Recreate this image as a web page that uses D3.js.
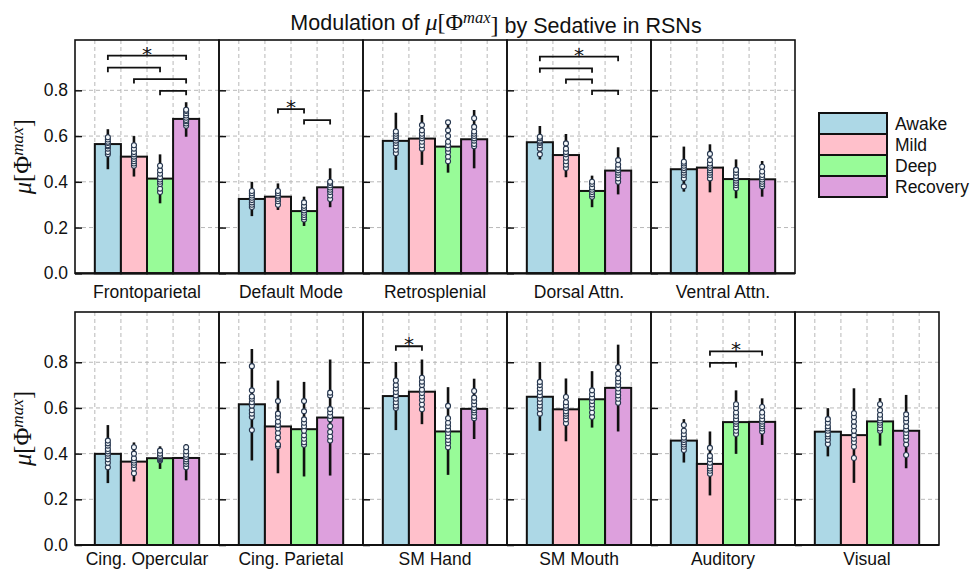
<!DOCTYPE html>
<html>
<head>
<meta charset="utf-8">
<script src="https://cdn.jsdelivr.net/npm/d3@7"></script>
<style>
  body { margin: 0; background: #fff; }
  svg { display: block; }
  text { font-family: "Liberation Sans", Arial, sans-serif; fill: #111; }
</style>
</head>
<body>
<div id="chart"></div>
<script>
var width = 972, height = 569;

var networks = ['Frontoparietal', 'Default Mode', 'Retrosplenial', 'Dorsal Attn.', 'Ventral Attn.',
    'Cing. Opercular', 'Cing. Parietal', 'SM Hand', 'SM Mouth', 'Auditory', 'Visual'];
var conditions = ['Awake', 'Mild', 'Deep', 'Recovery'];
var colors = ['#add8e6', '#ffc0cb', '#98fb98', '#dda0dd'];
var yTicks = [0, 0.2, 0.4, 0.6, 0.8];

// bar heights, one row per network (Awake, Mild, Deep, Recovery)
var means = [
    [0.565, 0.51, 0.414, 0.675],
    [0.325, 0.335, 0.272, 0.376],
    [0.579, 0.589, 0.554, 0.586],
    [0.573, 0.517, 0.36, 0.449],
    [0.455, 0.462, 0.412, 0.411],
    [0.399, 0.365, 0.38, 0.381],
    [0.616, 0.519, 0.507, 0.558],
    [0.652, 0.671, 0.497, 0.596],
    [0.649, 0.594, 0.638, 0.688],
    [0.457, 0.355, 0.538, 0.539],
    [0.496, 0.481, 0.541, 0.50]
];
var errLow = [
    [0.455, 0.423, 0.306, 0.597],
    [0.25, 0.277, 0.207, 0.289],
    [0.452, 0.474, 0.44, 0.459],
    [0.498, 0.42, 0.289, 0.345],
    [0.357, 0.354, 0.328, 0.335],
    [0.271, 0.278, 0.333, 0.283],
    [0.37, 0.314, 0.30, 0.304],
    [0.503, 0.529, 0.307, 0.464],
    [0.50, 0.454, 0.514, 0.497],
    [0.361, 0.217, 0.399, 0.438],
    [0.388, 0.272, 0.435, 0.336]
];
var errHigh = [
    [0.63, 0.60, 0.52, 0.748],
    [0.40, 0.393, 0.335, 0.459],
    [0.702, 0.692, 0.663, 0.714],
    [0.644, 0.609, 0.427, 0.551],
    [0.554, 0.564, 0.498, 0.491],
    [0.525, 0.449, 0.432, 0.442],
    [0.858, 0.72, 0.714, 0.812],
    [0.801, 0.812, 0.691, 0.728],
    [0.801, 0.729, 0.761, 0.877],
    [0.551, 0.497, 0.677, 0.642],
    [0.599, 0.686, 0.643, 0.657]
];

// individual subject values
var points = [
    [[0.52, 0.53, 0.545, 0.555, 0.56, 0.57, 0.575, 0.585, 0.595],
     [0.47, 0.48, 0.49, 0.50, 0.51, 0.52, 0.53, 0.545, 0.56],
     [0.355, 0.37, 0.39, 0.40, 0.41, 0.42, 0.435, 0.45, 0.47],
     [0.645, 0.655, 0.665, 0.67, 0.68, 0.69, 0.70, 0.71, 0.715]],
    [[0.29, 0.30, 0.31, 0.32, 0.33, 0.34, 0.35, 0.36],
     [0.30, 0.315, 0.325, 0.335, 0.34, 0.35, 0.36],
     [0.235, 0.245, 0.255, 0.265, 0.275, 0.285, 0.295, 0.31],
     [0.325, 0.34, 0.355, 0.365, 0.375, 0.385, 0.395, 0.40]],
    [[0.525, 0.54, 0.555, 0.57, 0.58, 0.59, 0.60, 0.61, 0.62],
     [0.545, 0.56, 0.575, 0.59, 0.60, 0.61, 0.625, 0.648],
     [0.49, 0.51, 0.53, 0.545, 0.56, 0.575, 0.60, 0.625, 0.66],
     [0.555, 0.565, 0.58, 0.59, 0.60, 0.61, 0.62, 0.64, 0.678]],
    [[0.52, 0.545, 0.56, 0.57, 0.575, 0.58, 0.59, 0.597],
     [0.46, 0.475, 0.49, 0.505, 0.52, 0.53, 0.545, 0.568],
     [0.335, 0.345, 0.355, 0.365, 0.375, 0.39, 0.40],
     [0.40, 0.415, 0.43, 0.44, 0.45, 0.46, 0.475, 0.495]],
    [[0.38, 0.415, 0.43, 0.44, 0.45, 0.46, 0.47, 0.48, 0.488],
     [0.415, 0.43, 0.44, 0.45, 0.46, 0.47, 0.48, 0.495, 0.522],
     [0.372, 0.385, 0.395, 0.405, 0.415, 0.425, 0.44, 0.452],
     [0.38, 0.39, 0.40, 0.41, 0.42, 0.43, 0.445, 0.466]],
    [[0.34, 0.36, 0.375, 0.39, 0.40, 0.41, 0.42, 0.435, 0.445, 0.457],
     [0.314, 0.335, 0.35, 0.36, 0.37, 0.38, 0.40, 0.428],
     [0.37, 0.375, 0.38, 0.385, 0.39, 0.40, 0.413],
     [0.34, 0.355, 0.365, 0.375, 0.385, 0.395, 0.41, 0.428]],
    [[0.503, 0.56, 0.575, 0.59, 0.61, 0.625, 0.64, 0.65, 0.677, 0.783],
     [0.432, 0.44, 0.47, 0.49, 0.51, 0.525, 0.54, 0.56, 0.575, 0.63],
     [0.439, 0.45, 0.465, 0.48, 0.50, 0.52, 0.535, 0.55, 0.585, 0.63],
     [0.457, 0.475, 0.495, 0.52, 0.55, 0.565, 0.58, 0.595, 0.655, 0.667]],
    [[0.60, 0.61, 0.625, 0.64, 0.655, 0.67, 0.685, 0.70, 0.72],
     [0.594, 0.615, 0.635, 0.65, 0.665, 0.68, 0.70, 0.715, 0.732],
     [0.428, 0.445, 0.46, 0.475, 0.49, 0.505, 0.52, 0.535, 0.555, 0.609],
     [0.555, 0.565, 0.58, 0.59, 0.60, 0.615, 0.63, 0.645, 0.674]],
    [[0.575, 0.595, 0.61, 0.625, 0.64, 0.655, 0.67, 0.685, 0.70, 0.714],
     [0.533, 0.55, 0.565, 0.575, 0.585, 0.60, 0.61, 0.625, 0.648],
     [0.561, 0.58, 0.60, 0.615, 0.63, 0.645, 0.66, 0.677],
     [0.623, 0.64, 0.655, 0.67, 0.685, 0.70, 0.715, 0.73, 0.75, 0.778]],
    [[0.416, 0.43, 0.44, 0.45, 0.46, 0.47, 0.485, 0.50, 0.525],
     [0.312, 0.325, 0.335, 0.345, 0.36, 0.375, 0.39, 0.425],
     [0.486, 0.50, 0.515, 0.53, 0.54, 0.55, 0.565, 0.58, 0.60, 0.616],
     [0.497, 0.51, 0.52, 0.53, 0.54, 0.55, 0.565, 0.58, 0.604]],
    [[0.442, 0.46, 0.475, 0.485, 0.50, 0.51, 0.52, 0.535, 0.551],
     [0.381, 0.43, 0.45, 0.465, 0.48, 0.50, 0.52, 0.54, 0.56, 0.577],
     [0.50, 0.51, 0.525, 0.535, 0.545, 0.555, 0.57, 0.59, 0.616],
     [0.394, 0.44, 0.46, 0.475, 0.49, 0.505, 0.52, 0.54, 0.555, 0.572]]
];

// significance brackets: [network, from, to, level]; star sits on the first of each network
var sigPairs = [
    [0, 0, 3, 0.952], [0, 0, 2, 0.899], [0, 1, 3, 0.849], [0, 2, 3, 0.798],
    [1, 1, 2, 0.718], [1, 2, 3, 0.67],
    [3, 0, 3, 0.947], [3, 0, 2, 0.896], [3, 1, 2, 0.848], [3, 2, 3, 0.799],
    [7, 0, 1, 0.87],
    [9, 1, 3, 0.848], [9, 1, 2, 0.797]
];

var svg = d3.select('#chart').append('svg')
    .attr('width', width)
    .attr('height', height);

var panelW = 144, left = 75;
var rows = [
    { top: 40, bottom: 273.3, first: 0, count: 5, labelY: 298 },
    { top: 312, bottom: 545, first: 5, count: 6, labelY: 565 }
];

var x = d3.scaleBand().domain(conditions).range([0, panelW])
    .paddingInner(0).paddingOuter(0.76);
var edges = conditions.map((c) => x(c)).concat([x('Recovery') + x.bandwidth()]);

function mathLabel(t, supSize) {
    t.append('tspan').style('font-style', 'italic').text('\u03bc');
    t.append('tspan').text('[\u03a6');
    t.append('tspan').attr('dy', '-0.45em').style('font-size', supSize).style('font-style', 'italic').text('max');
    t.append('tspan').attr('dy', '0.315em').text(']');
}

rows.forEach(function (row) {
    var y = d3.scaleLinear().domain([0, 1.02]).range([row.bottom, row.top]);

    for (var k = 0; k < row.count; k++) {
        var ni = row.first + k;
        var g = svg.append('g')
            .attr('transform', 'translate(' + (left + k * panelW) + ',0)');

        // grid
        g.selectAll('.hgrid').data(yTicks.slice(1)).enter().append('line')
            .attr('x1', 0).attr('x2', panelW)
            .attr('y1', (d) => y(d)).attr('y2', (d) => y(d))
            .attr('stroke', '#b8b8b8').attr('stroke-width', 1).attr('stroke-dasharray', '4,3');
        g.selectAll('.vgrid').data(edges).enter().append('line')
            .attr('x1', (d) => d).attr('x2', (d) => d)
            .attr('y1', row.top).attr('y2', row.bottom)
            .attr('stroke', '#b8b8b8').attr('stroke-width', 1).attr('stroke-dasharray', '4,3');

        // bars
        g.selectAll('.bar').data(means[ni]).enter().append('rect')
            .attr('x', (d, i) => x(conditions[i]))
            .attr('width', x.bandwidth())
            .attr('y', (d) => y(d))
            .attr('height', (d) => y(0) - y(d))
            .attr('fill', (d, i) => colors[i])
            .attr('stroke', '#111').attr('stroke-width', 2);

        // whiskers
        g.selectAll('.err').data(conditions).enter().append('line')
            .attr('x1', (c) => x(c) + x.bandwidth() / 2)
            .attr('x2', (c) => x(c) + x.bandwidth() / 2)
            .attr('y1', (c, i) => y(errLow[ni][i]))
            .attr('y2', (c, i) => y(errHigh[ni][i]))
            .attr('stroke', '#111').attr('stroke-width', 2.6);

        // subject points
        points[ni].forEach(function (vals, i) {
            g.selectAll('.pt' + i).data(vals).enter().append('circle')
                .attr('cx', x(conditions[i]) + x.bandwidth() / 2)
                .attr('cy', (d) => y(d))
                .attr('r', 2.5)
                .attr('fill', '#f4f8fb')
                .attr('stroke', '#27374f').attr('stroke-width', 1.1);
        });

        // significance brackets
        var pairs = sigPairs.filter((p) => p[0] === ni);
        pairs.forEach(function (p, j) {
            var x1 = x(conditions[p[1]]) + x.bandwidth() / 2;
            var x2 = x(conditions[p[2]]) + x.bandwidth() / 2;
            var yy = y(p[3]);
            g.append('path')
                .attr('d', 'M' + x1 + ',' + (yy + 4.5) + 'V' + yy + 'H' + x2 + 'V' + (yy + 4.5))
                .attr('fill', 'none').attr('stroke', '#111').attr('stroke-width', 1.8);
            if (j === 0) {
                g.append('text')
                    .attr('x', (x1 + x2) / 2).attr('y', yy + 5)
                    .attr('text-anchor', 'middle')
                    .style('font-family', '"DejaVu Sans", sans-serif')
                    .style('font-size', '20px')
                    .text('*');
            }
        });

        // inward ticks
        var ticks = g.append('g').call(d3.axisRight(y).tickValues(yTicks).tickSize(7).tickFormat(''));
        ticks.select('.domain').remove();
        ticks.selectAll('line').attr('stroke', '#111').attr('stroke-width', 1.5);

        if (k === 0) {
            var lab = g.append('g').call(d3.axisLeft(y).tickValues(yTicks).tickSize(0)
                .tickPadding(7).tickFormat(d3.format('.1f')));
            lab.select('.domain').remove();
            lab.selectAll('text').style('font-size', '17.5px')
                .style('font-family', '"Liberation Sans", Arial, sans-serif').attr('fill', '#111');
        }

        // frame
        g.append('rect')
            .attr('x', 0).attr('y', row.top)
            .attr('width', panelW).attr('height', row.bottom - row.top)
            .attr('fill', 'none').attr('stroke', '#111').attr('stroke-width', 1.6);
        g.append('line')
            .attr('x1', 0).attr('x2', panelW).attr('y1', row.bottom).attr('y2', row.bottom)
            .attr('stroke', '#111').attr('stroke-width', 2.2);

        g.append('text')
            .attr('x', panelW / 2).attr('y', row.labelY)
            .attr('text-anchor', 'middle')
            .style('font-size', '17.5px')
            .text(networks[ni]);
    }

    // y label
    var yl = svg.append('text')
        .attr('transform', 'translate(31,' + ((row.top + row.bottom) / 2) + ') rotate(-90)')
        .attr('text-anchor', 'middle')
        .style('font-family', '"Liberation Serif", "Times New Roman", serif')
        .style('font-size', '24.5px');
    mathLabel(yl, '70%');
});

// title
var title = svg.append('text')
    .attr('x', 496).attr('y', 30)
    .attr('text-anchor', 'middle')
    .style('font-size', '21.5px');
title.append('tspan').text('Modulation of ');
var m = title.append('tspan').style('font-family', '"Liberation Serif", "Times New Roman", serif')
    .style('font-size', '24px');
m.append('tspan').style('font-style', 'italic').text('\u03bc');
m.append('tspan').text('[\u03a6');
m.append('tspan').attr('dy', '-0.45em').style('font-size', '16.5px').style('font-style', 'italic').text('max');
m.append('tspan').attr('dy', '0.45em').text(']');
title.append('tspan').text(' by Sedative in RSNs');

// legend
var legend = svg.append('g').attr('transform', 'translate(819,113)');
conditions.forEach(function (c, i) {
    legend.append('rect')
        .attr('x', 0).attr('y', i * 21).attr('width', 68).attr('height', 21)
        .attr('fill', colors[i]).attr('stroke', '#111').attr('stroke-width', 2);
    legend.append('text')
        .attr('x', 76).attr('y', i * 21 + 10.5)
        .attr('dy', '0.35em')
        .style('font-size', '17.5px')
        .text(c);
});
</script>
</body>
</html>
